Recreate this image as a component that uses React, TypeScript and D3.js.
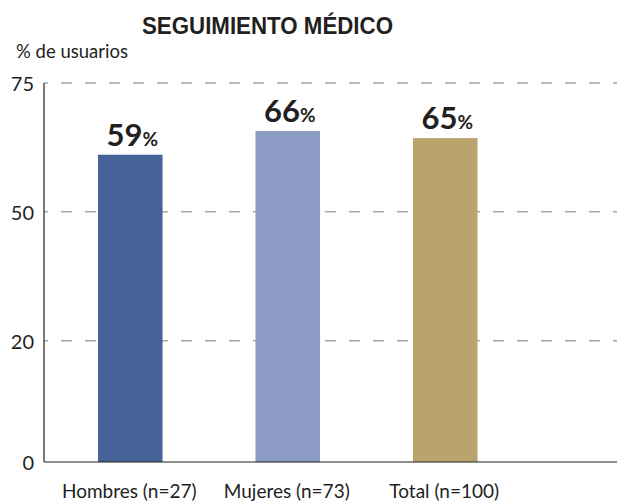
import * as d3 from 'd3';
import React, { useRef, useEffect } from 'react';

const categories = ['Hombres (n=27)', 'Mujeres (n=73)', 'Total (n=100)'];
const percentLabels = [59, 66, 65];
// bar heights as drawn in the source (axis units)
const barHeights = [60.8, 65.5, 64.1];
const colors = ['#456399', '#8c9bc3', '#b9a46e'];
const tickValues = [0, 24, 49.5, 75];
const tickLabels = ['0', '20', '50', '75'];

const W = 617;
const H = 504;
const FONT = 'Lato, "Open Sans", sans-serif';

const App = () => {
  const ref = useRef<SVGSVGElement>(null);

  useEffect(() => {
    const svg = d3.select(ref.current);
    svg.selectAll('*').remove();

    const y = d3.scaleLinear().domain([0, 75]).range([462, 83]);
    const x = d3.scaleBand<string>()
      .domain(categories)
      .range([51.5, 524])
      .paddingInner(0.59)
      .paddingOuter(0.295);

    // title
    svg.append('text')
      .attr('x', 142)
      .attr('y', 34)
      .attr('textLength', 251)
      .attr('lengthAdjust', 'spacingAndGlyphs')
      .style('font-family', '"Liberation Sans", Arial, sans-serif')
      .style('font-weight', 'bold')
      .style('font-size', '24.5px')
      .style('fill', '#231f20')
      .text('SEGUIMIENTO MÉDICO');

    svg.append('text')
      .attr('x', 16)
      .attr('y', 58)
      .style('font-family', FONT)
      .style('font-size', '18.5px')
      .style('fill', '#231f20')
      .text('% de usuarios');

    // dashed grid
    const grid = svg.append('g');
    grid.selectAll('line')
      .data(tickValues.filter(d => d > 0))
      .enter().append('line')
      .attr('x1', 44)
      .attr('x2', W)
      .attr('y1', d => y(d))
      .attr('y2', d => y(d))
      .style('stroke', '#a7a9ac')
      .style('stroke-width', 1.5)
      .style('stroke-dasharray', '11 13')
      .style('stroke-dashoffset', 7);

    // tick labels
    svg.append('g')
      .selectAll('text')
      .data(tickValues)
      .enter().append('text')
      .attr('x', 34)
      .attr('y', d => y(d) + 3)
      .attr('text-anchor', 'end')
      .attr('dominant-baseline', 'middle')
      .style('font-family', FONT)
      .style('font-size', '20px')
      .style('fill', '#231f20')
      .text((d, i) => tickLabels[i]);

    // bars
    svg.append('g')
      .selectAll('rect')
      .data(categories)
      .enter().append('rect')
      .attr('x', d => x(d)!)
      .attr('width', x.bandwidth())
      .attr('y', (d, i) => y(barHeights[i]))
      .attr('height', (d, i) => y(0) - y(barHeights[i]))
      .style('fill', (d, i) => colors[i]);

    // value labels
    const vl = svg.append('g')
      .selectAll('text')
      .data(categories)
      .enter().append('text')
      .attr('x', d => x(d)! + x.bandwidth() / 2 + 2)
      .attr('y', (d, i) => y(barHeights[i]) - 9)
      .attr('text-anchor', 'middle')
      .style('font-family', FONT)
      .style('font-weight', 'bold')
      .style('fill', '#231f20');
    vl.append('tspan')
      .style('font-size', '31px')
      .text((d, i) => String(percentLabels[i]));
    vl.append('tspan')
      .style('font-size', '19px')
      .text('%');

    // category labels
    svg.append('g')
      .selectAll('text')
      .data(categories)
      .enter().append('text')
      .attr('x', d => x(d)! + x.bandwidth() / 2 - 1)
      .attr('y', 498)
      .attr('text-anchor', 'middle')
      .style('font-family', FONT)
      .style('font-size', '19px')
      .style('fill', '#231f20')
      .text(d => d);

    // axes
    svg.append('line')
      .attr('x1', 44).attr('x2', 44)
      .attr('y1', y(75)).attr('y2', y(0))
      .style('stroke', '#231f20')
      .style('stroke-width', 1.2);
    svg.append('line')
      .attr('x1', 44).attr('x2', W)
      .attr('y1', y(0)).attr('y2', y(0))
      .style('stroke', '#231f20')
      .style('stroke-width', 1.2);
  }, []);

  return (
    <svg
      ref={ref}
      width={W}
      height={H}
      style={{ position: 'absolute', left: 0, top: 0, background: '#fff' }}
    />
  );
};

export default App;
